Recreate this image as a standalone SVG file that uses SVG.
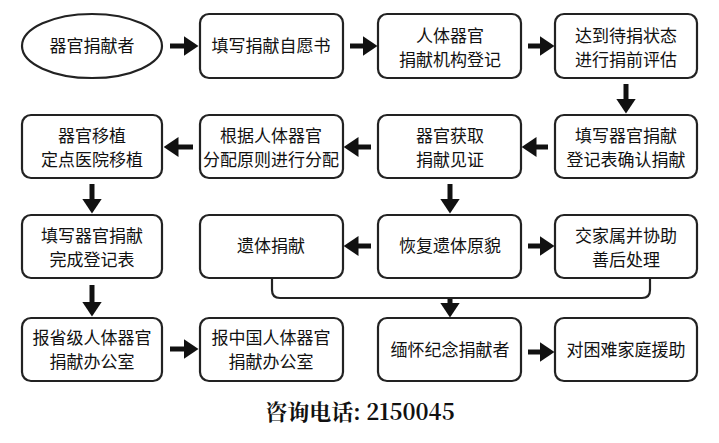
<svg xmlns="http://www.w3.org/2000/svg" width="719" height="443" viewBox="0 0 719 443">
<defs>
<style>
.b{fill:#fff;stroke:#222;stroke-width:2.2}
.t{font-family:"Noto Sans CJK SC",sans-serif;font-size:17px;fill:#111;text-anchor:middle}
.c{stroke:#111;stroke-width:5;fill:none;marker-end:url(#ah)}
.l{stroke:#222;stroke-width:2.2;fill:none}
</style>
<marker id="ah" markerWidth="3" markerHeight="4" refX="0.5" refY="2" orient="auto" markerUnits="strokeWidth"><path d="M0,0L3,2L0,4Z" fill="#111"/></marker>
</defs>
<rect width="719" height="443" fill="#fff"/>
<g id="n1"><ellipse class="b" cx="92" cy="46" rx="70" ry="32"/><text class="t" x="92" y="52">器官捐献者</text></g>
<g id="n2"><rect class="b" x="200" y="14" width="143" height="64" rx="9"/><text class="t" x="271" y="52">填写捐献自愿书</text></g>
<g id="n3"><rect class="b" x="378" y="14" width="143" height="64" rx="9"/><text class="t" x="450" y="42">人体器官</text><text class="t" x="450" y="66">捐献机构登记</text></g>
<g id="n4"><rect class="b" x="555" y="14" width="142" height="64" rx="9"/><text class="t" x="626" y="42">达到待捐状态</text><text class="t" x="626" y="66">进行捐前评估</text></g>
<g id="n5"><rect class="b" x="555" y="115" width="142" height="63" rx="9"/><text class="t" x="626" y="142">填写器官捐献</text><text class="t" x="626" y="166">登记表确认捐献</text></g>
<g id="n6"><rect class="b" x="378" y="115" width="143" height="63" rx="9"/><text class="t" x="450" y="142">器官获取</text><text class="t" x="450" y="166">捐献见证</text></g>
<g id="n7"><rect class="b" x="200" y="115" width="143" height="63" rx="9"/><text class="t" x="271" y="142">根据人体器官</text><text class="t" x="271" y="166">分配原则进行分配</text></g>
<g id="n8"><rect class="b" x="22" y="115" width="140" height="63" rx="9"/><text class="t" x="92" y="142">器官移植</text><text class="t" x="92" y="166">定点医院移植</text></g>
<g id="n9"><rect class="b" x="22" y="215" width="140" height="63" rx="9"/><text class="t" x="92" y="242">填写器官捐献</text><text class="t" x="92" y="266">完成登记表</text></g>
<g id="n10"><rect class="b" x="200" y="215" width="143" height="63" rx="9"/><text class="t" x="271" y="252">遗体捐献</text></g>
<g id="n11"><rect class="b" x="378" y="215" width="143" height="63" rx="9"/><text class="t" x="450" y="252">恢复遗体原貌</text></g>
<g id="n12"><rect class="b" x="555" y="215" width="142" height="63" rx="9"/><text class="t" x="626" y="242">交家属并协助</text><text class="t" x="626" y="266">善后处理</text></g>
<g id="n13"><rect class="b" x="22" y="318" width="140" height="63" rx="9"/><text class="t" x="92" y="344">报省级人体器官</text><text class="t" x="92" y="368">捐献办公室</text></g>
<g id="n14"><rect class="b" x="200" y="318" width="143" height="63" rx="9"/><text class="t" x="271" y="344">报中国人体器官</text><text class="t" x="271" y="368">捐献办公室</text></g>
<g id="n15"><rect class="b" x="378" y="318" width="143" height="63" rx="9"/><text class="t" x="450" y="356">缅怀纪念捐献者</text></g>
<g id="n16"><rect class="b" x="555" y="318" width="142" height="63" rx="9"/><text class="t" x="626" y="356">对困难家庭援助</text></g>
<g id="edges">
<line class="c" x1="170" y1="46" x2="186" y2="46"/>
<line class="c" x1="350" y1="46" x2="365" y2="46"/>
<line class="c" x1="528" y1="46" x2="542" y2="46"/>
<line class="c" x1="626" y1="84" x2="626" y2="101"/>
<line class="c" x1="548" y1="147" x2="534" y2="147"/>
<line class="c" x1="371" y1="147" x2="356" y2="147"/>
<line class="c" x1="193" y1="147" x2="176" y2="147"/>
<line class="c" x1="92" y1="184" x2="92" y2="201"/>
<line class="c" x1="450" y1="184" x2="450" y2="201"/>
<line class="c" x1="371" y1="246" x2="356" y2="246"/>
<line class="c" x1="528" y1="246" x2="542" y2="246"/>
<line class="c" x1="92" y1="285" x2="92" y2="304"/>
<line class="c" x1="170" y1="349" x2="186" y2="349"/>
<line class="c" x1="528" y1="352" x2="542" y2="352"/>
<path class="l" d="M272,278V290Q272,298 280,298H642Q650,298 650,290V278"/>
<line class="c" x1="450" y1="299" x2="450" y2="305"/>
</g>
<text x="360" y="420" style="font-family:'Noto Serif CJK SC','Noto Sans CJK SC',serif;font-size:22px;font-weight:bold;fill:#111;text-anchor:middle">咨询电话: 2150045</text>
</svg>
